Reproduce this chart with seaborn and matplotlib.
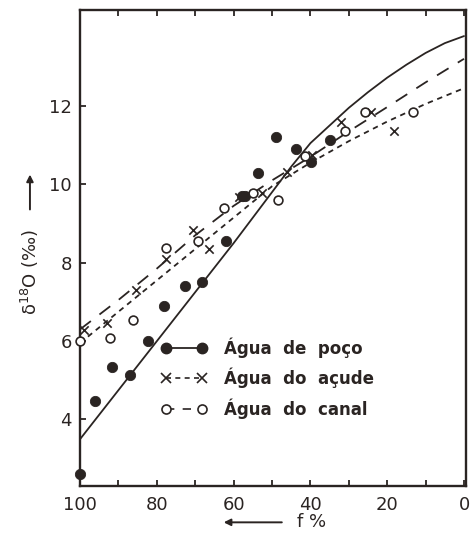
# delta-18O vs f% plot (poço / açude / canal)
import matplotlib
matplotlib.use('Agg')
import matplotlib.pyplot as plt
from matplotlib.lines import Line2D
import seaborn as sns

# Data
poco_f = [100, 96, 91.8, 86.9, 82.4, 78.1, 72.7, 68.2, 62.0, 57.8, 57.0, 53.7, 48.9, 43.7, 39.9, 34.9]
poco_d = [2.62, 4.47, 5.34, 5.14, 6.0, 6.89, 7.40, 7.51, 8.56, 9.69, 9.69, 10.29, 11.2, 10.89, 10.57, 11.12]

acude_f = [99.1, 92.9, 85.4, 77.5, 70.7, 66.4, 58.5, 52.7, 46.0, 39.6, 32.0, 24.2, 18.2]
acude_d = [6.28, 6.46, 7.31, 8.09, 8.83, 8.34, 9.68, 9.78, 10.32, 10.75, 11.58, 11.84, 11.37]

canal_f = [100, 92.3, 86.1, 77.5, 69.3, 62.6, 54.9, 48.5, 41.5, 31.0, 25.8, 13.3]
canal_d = [6.01, 6.07, 6.53, 8.38, 8.56, 9.39, 9.77, 9.61, 10.72, 11.36, 11.84, 11.84]

# fitted curves (as drawn)
poco_curve_f = [100, 80, 60, 45, 40, 35, 30, 25, 20, 15, 10, 5, 0]
poco_curve_d = [3.5, 6.0, 8.5, 10.45, 11.05, 11.5, 11.95, 12.35, 12.72, 13.05, 13.35, 13.6, 13.78]

acude_curve_f = [100, 90, 80, 70, 60, 50, 40, 30, 20, 10, 0]
acude_curve_d = [5.95, 6.75, 7.55, 8.35, 9.15, 9.95, 10.55, 11.1, 11.6, 12.05, 12.45]

canal_curve_f = [100, 90, 80, 70, 60, 50, 40, 30, 20, 10, 0]
canal_curve_d = [6.3, 7.05, 7.85, 8.7, 9.45, 10.1, 10.7, 11.35, 11.97, 12.6, 13.2]

labels = ['Água  de  poço', 'Água  do  açude', 'Água  do  canal']
ink = '#2a2422'

sns.set_style('ticks')
plt.rcParams['font.family'] = ['DejaVu Sans']

fig = plt.figure(figsize=(4.74, 5.45), dpi=100)
fig.subplots_adjust(left=0.169, right=0.983, bottom=0.108, top=0.982)
ax = fig.add_subplot(111)

# curves
sns.lineplot(x=poco_curve_f, y=poco_curve_d, sort=False, estimator=None, color=ink, lw=1.3, ax=ax)
sns.lineplot(x=acude_curve_f, y=acude_curve_d, sort=False, estimator=None, color=ink, lw=1.3, ax=ax)
ax.lines[-1].set_dashes((3, 2.6))
sns.lineplot(x=canal_curve_f, y=canal_curve_d, sort=False, estimator=None, color=ink, lw=1.3, ax=ax)
ax.lines[-1].set_dashes((7.5, 6))

# points
sns.scatterplot(x=poco_f, y=poco_d, s=55, color=ink, edgecolor=ink, ax=ax, clip_on=False, zorder=3)
sns.scatterplot(x=acude_f, y=acude_d, s=36, marker='x', color=ink, linewidth=1.2, ax=ax, clip_on=False, zorder=3)
sns.scatterplot(x=canal_f, y=canal_d, s=40, facecolor='white', edgecolor=ink, linewidth=1.2, ax=ax,
                clip_on=False, zorder=3)

ax.set_xlim(100, -0.5)
ax.set_ylim(2.3, 14.45)
ax.set_xticks(range(0, 101, 10))
ax.set_xticklabels(['0' if v == 0 else (str(v) if v % 20 == 0 else '') for v in range(0, 101, 10)])
ax.set_yticks([4, 6, 8, 10, 12])
ax.tick_params(axis='both', direction='in', length=4, width=1.3, color=ink, labelsize=13, labelcolor=ink)
ax.tick_params(axis='x', top=True, pad=7)
ax.tick_params(axis='y', pad=6)
for sp in ax.spines.values():
    sp.set_visible(True)
    sp.set_linewidth(1.7)
    sp.set_color(ink)

# axis titles with the long arrows of the original
ax.text(0.60, -0.076, 'f %', transform=ax.transAxes, fontsize=13, color=ink, ha='center', va='center')
ax.annotate('', xy=(0.365, -0.076), xytext=(0.53, -0.076), xycoords='axes fraction',
            arrowprops=dict(arrowstyle='-|>', color=ink, lw=1.4, mutation_scale=10))
ax.text(-0.13, 0.45, 'δ$^{18}$O (‰)', transform=ax.transAxes, fontsize=13, color=ink,
        rotation=90, ha='center', va='center')
ax.annotate('', xy=(-0.13, 0.66), xytext=(-0.13, 0.575), xycoords='axes fraction',
            arrowprops=dict(arrowstyle='-|>', color=ink, lw=1.4, mutation_scale=10))

handles = [
    Line2D([0], [0], color=ink, lw=1.3, marker='o', markersize=7.5),
    Line2D([0], [0], color=ink, lw=1.2, dashes=(3, 2.6), marker='x', markersize=6.5, markeredgewidth=1.2),
    Line2D([0], [0], color=ink, lw=1.2, dashes=(5, 5), marker='o', markersize=6.5,
           markerfacecolor='white', markeredgewidth=1.2),
]
ax.legend(handles, labels, numpoints=2, frameon=False, fontsize=12, loc='lower left',
          bbox_to_anchor=(0.17, 0.11), handlelength=2.8, handletextpad=1.0, labelspacing=0.6,
          labelcolor=ink, prop={'weight': 'bold', 'size': 12})

fig.savefig('out.png', dpi=100)
